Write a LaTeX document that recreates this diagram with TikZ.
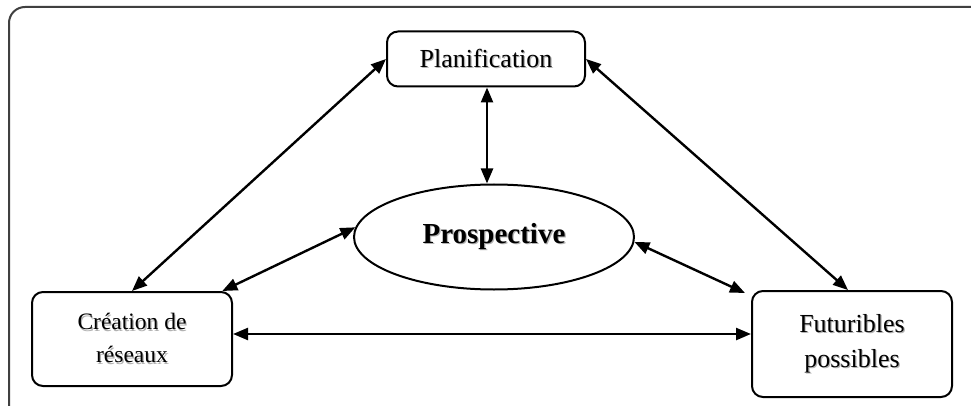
\documentclass[tikz,border=0pt]{standalone}
\usepackage{fontspec}
\setmainfont{Liberation Serif}
\usetikzlibrary{arrows.meta,shapes.geometric}
% text with a soft grey drop shadow
\newcommand\shd[1]{\leavevmode\rlap{\raisebox{-1.2pt}{\hspace{1.2pt}\textcolor{black!30}{#1}}}#1}
\tikzset{
  box/.style={draw=black, line width=2pt, rounded corners=11pt, align=center, inner sep=0pt},
  oval/.style={ellipse, draw=black, line width=2pt, inner sep=0pt},
  link/.style={line width=2.4pt, {Triangle[length=15pt,width=12pt]}-{Triangle[length=15pt,width=12pt]}},
}
\begin{document}
\begin{tikzpicture}[x=1pt,y=-1pt]
\clip (0,0) rectangle (971,406);
\fill[white] (0,0) rectangle (971,406);
% outer frame, running past the right and bottom edges
\draw[line width=2pt, black!75, rounded corners=16pt] (1000,7) -- (9,7) -- (9,440);

\node[box, minimum width=198pt, minimum height=55pt, font=\fontsize{26}{31}\selectfont]
  (plan) at (486,59) {\shd{Planification}};
\node[oval, minimum width=280pt, minimum height=105pt, font=\fontsize{29}{34}\selectfont\bfseries]
  (pros) at (494,237) {\shd{Prospective}};
\node[box, minimum width=200pt, minimum height=94pt, font=\fontsize{23.5}{33}\selectfont]
  (crea) at (132,339) {\shd{Création de}\\\shd{réseaux}};
\node[box, minimum width=200pt, minimum height=106pt, font=\fontsize{26}{35}\selectfont]
  (fut) at (852,344) {\shd{Futuribles}\\\shd{possibles}};

\draw[link] (plan.west) -- (crea.north);
\draw[link] (plan.east) -- ([xshift=-4pt]fut.north);
\draw[link] ([xshift=1pt]plan.south) -- ([xshift=1pt]plan.south |- pros.north);
\draw[link] (pros.176) -- (crea.28);
\draw[link] (pros.-2) -- ([xshift=-6pt,yshift=-3pt]fut.north west);
\coordinate (h) at ([yshift=5pt]crea.east);
\draw[link] (h) -- (h -| fut.west);
\end{tikzpicture}
\end{document}
